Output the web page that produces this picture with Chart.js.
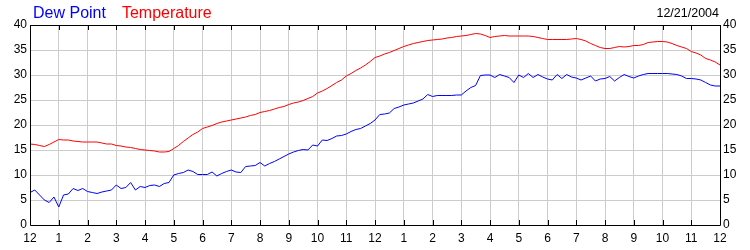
<!DOCTYPE html>
<html>
<head>
<meta charset="utf-8">
<script src="https://cdn.jsdelivr.net/npm/chart.js@4/dist/chart.umd.min.js"></script>
<style>
html,body{margin:0;padding:0;background:#fff;}
#wrap{width:750px;height:250px;}
</style>
</head>
<body>
<div id="wrap"><canvas id="c" width="750" height="250"></canvas></div>
<script>
// ---- DATA ----
const dateLabel = "12/21/2004";
const seriesNames = ["Dew Point", "Temperature"];
const hourLabels = ["12","1","2","3","4","5","6","7","8","9","10","11","12","1","2","3","4","5","6","7","8","9","10","11","12"];
const yTicks = [0,5,10,15,20,25,30,35,40];
const sampleMinutes = 10;

const temperature = [
  16.2,16.1,15.9,15.7,16.1,16.6,
  17.1,17.0,17.0,16.8,16.7,16.6,
  16.6,16.6,16.6,16.4,16.2,16.2,
  15.9,15.8,15.6,15.5,15.3,15.1,
  15.0,14.9,14.8,14.6,14.6,14.7,
  15.3,15.9,16.7,17.4,18.1,18.6,
  19.3,19.6,19.9,20.3,20.6,20.8,
  21.0,21.2,21.4,21.6,21.9,22.1,
  22.5,22.7,22.9,23.2,23.5,23.7,
  24.1,24.4,24.6,24.9,25.3,25.7,
  26.4,26.8,27.3,27.9,28.5,29.0,
  29.8,30.3,30.9,31.4,32.0,32.7,
  33.5,33.8,34.2,34.5,34.9,35.3,
  35.7,36.0,36.3,36.5,36.7,36.9,
  37.0,37.1,37.2,37.4,37.5,37.7,
  37.8,37.9,38.1,38.3,38.2,37.9,
  37.5,37.7,37.8,37.9,37.8,37.8,
  37.8,37.8,37.8,37.7,37.5,37.3,
  37.1,37.1,37.1,37.1,37.1,37.2,
  37.3,37.1,36.8,36.3,35.9,35.5,
  35.3,35.3,35.5,35.7,35.6,35.7,
  35.9,35.9,36.1,36.5,36.6,36.7,
  36.7,36.6,36.3,35.9,35.6,35.3,
  34.7,34.4,34.0,33.3,33.0,32.6,
  32.0
];

const dewPoint = [
  6.5,7.0,6.0,5.0,4.5,5.6,
  3.6,6.0,6.2,7.3,6.9,7.3,
  6.7,6.5,6.3,6.6,6.8,7.0,
  8.0,7.3,7.5,8.5,7.0,7.7,
  7.5,7.9,8.0,7.7,8.3,8.5,
  10.0,10.3,10.5,11.0,10.7,10.1,
  10.1,10.1,10.6,9.8,10.3,10.7,
  11.0,10.6,10.5,11.7,11.8,11.9,
  12.5,11.8,12.3,12.7,13.2,13.7,
  14.2,14.6,14.9,15.1,15.0,16.0,
  15.8,17.0,16.9,17.3,17.8,17.9,
  18.2,18.7,19.1,19.3,19.8,20.3,
  21.0,22.1,22.2,22.4,23.3,23.6,
  24.0,24.2,24.4,24.8,25.2,26.1,
  25.7,25.9,25.9,25.9,25.9,26.0,
  26.0,26.8,27.5,27.9,29.9,30.0,
  30.0,29.5,30.1,29.8,29.5,28.5,
  30.0,29.5,30.3,29.5,30.1,29.6,
  29.2,29.0,30.1,29.3,30.1,29.6,
  29.4,29.0,29.4,29.8,28.8,29.2,
  29.3,29.7,28.8,29.5,30.1,29.7,
  29.4,29.8,30.1,30.3,30.3,30.3,
  30.3,30.3,30.2,30.1,29.8,29.3,
  29.3,29.2,29.0,28.5,28.0,27.8,
  27.8
];

// ---- CHART ----
const toPoints = arr => arr.map((v, i) => ({ x: i * sampleMinutes / 60, y: v }));
const FONT = "Arial, 'Liberation Sans', sans-serif";

const framePlugin = {
  id: 'frame',
  afterDatasetsDraw(chart) {
    const { ctx, chartArea: a, scales } = chart;
    ctx.save();
    ctx.strokeStyle = '#000';
    ctx.lineWidth = 1;
    ctx.beginPath();
    // hour ticks top & bottom (inward)
    for (let h = 0; h <= 24; h++) {
      const x = Math.round(scales.x.getPixelForValue(h)) + 0.5;
      ctx.moveTo(x, a.top); ctx.lineTo(x, a.top + 5);
      ctx.moveTo(x, a.bottom); ctx.lineTo(x, a.bottom - 5);
    }
    ctx.stroke();
    ctx.beginPath();
    ctx.rect(Math.round(a.left) + 0.5, Math.round(a.top) + 0.5,
             Math.round(a.right) - Math.round(a.left), Math.round(a.bottom) - Math.round(a.top));
    ctx.stroke();
    ctx.restore();
  },
  afterDraw(chart) {
    const { ctx } = chart;
    ctx.save();
    ctx.textBaseline = 'alphabetic';
    ctx.font = "16px " + FONT;
    ctx.textAlign = 'left';
    ctx.fillStyle = '#0000ff';
    ctx.fillText(seriesNames[0], 33, 18);
    const w = ctx.measureText(seriesNames[0]).width;
    ctx.fillStyle = '#ff0000';
    ctx.fillText(seriesNames[1], 33 + w + 16, 18);
    ctx.font = "12.5px " + FONT;
    ctx.fillStyle = '#000';
    ctx.textAlign = 'right';
    ctx.fillText(dateLabel, 719, 17);
    ctx.restore();
  }
};

const yCommon = {
  type: 'linear', min: 0, max: 40,
  afterBuildTicks(s) { s.ticks = yTicks.map(v => ({ value: v })); },
  ticks: { color: '#000', font: { family: FONT, size: 12 }, padding: 3 },
  border: { display: false },
  afterFit(s) { s.width = 30; }
};

new Chart(document.getElementById('c'), {
  type: 'line',
  data: {
    datasets: [
      { label: seriesNames[0], data: toPoints(dewPoint), borderColor: '#0000ff', borderWidth: 1, pointRadius: 0, tension: 0, yAxisID: 'y' },
      { label: seriesNames[1], data: toPoints(temperature), borderColor: '#ff0000', borderWidth: 1, pointRadius: 0, tension: 0, yAxisID: 'y' }
    ]
  },
  options: {
    responsive: false,
    animation: false,
    devicePixelRatio: 1,
    layout: { padding: { top: 25, left: 0, right: 0, bottom: 0 } },
    plugins: { legend: { display: false }, title: { display: false }, tooltip: { enabled: false } },
    scales: {
      x: {
        type: 'linear', min: 0, max: 24,
        afterBuildTicks(s) { s.ticks = hourLabels.map((l, i) => ({ value: i })); },
        ticks: {
          autoSkip: false, maxRotation: 0, color: '#000', padding: 6,
          font: { family: FONT, size: 12 },
          callback: (v, i) => hourLabels[i]
        },
        grid: { color: '#cccccc', drawTicks: false },
        border: { display: false },
        afterFit(s) { s.height = 25; }
      },
      y: Object.assign({}, yCommon, { position: 'left', grid: { color: '#cccccc', drawTicks: false } }),
      y2: Object.assign({}, yCommon, { position: 'right', grid: { display: false, drawTicks: false } })
    }
  },
  plugins: [framePlugin]
});
</script>
</body>
</html>
